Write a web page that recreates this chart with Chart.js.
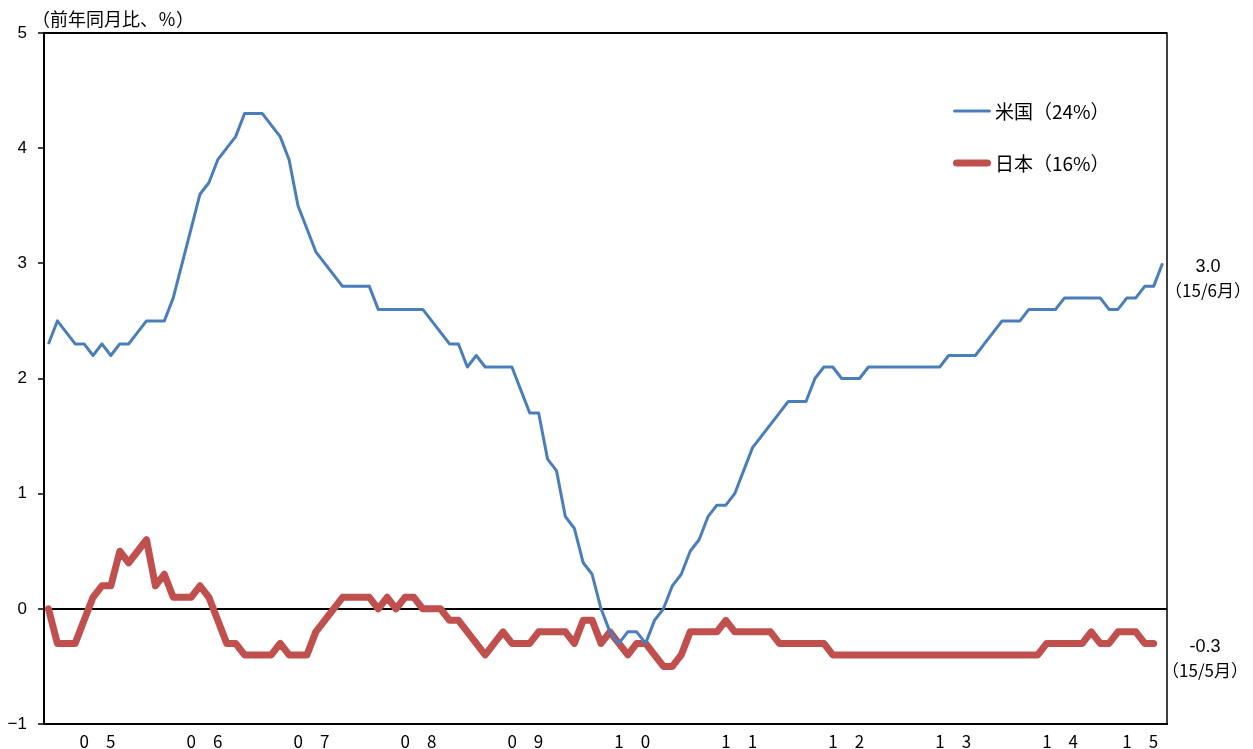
<!DOCTYPE html>
<html>
<head>
<meta charset="utf-8">
<script src="https://cdn.jsdelivr.net/npm/chart.js@4.4.1/dist/chart.umd.min.js"></script>
<style>
  html, body { margin: 0; padding: 0; background: #ffffff; }
  #wrap { width: 1253px; height: 749px; position: relative; }
</style>
</head>
<body>
<div id="wrap"><canvas id="c" width="1253" height="749"></canvas></div>
<script>
// Monthly series, Jan 2005 onward (year-on-year change, %)
const startYear = 2005;
const yearLabels = ['0　5', '0　6', '0　7', '0　8', '0　9', '1　0', '1　1', '1　2', '1　3', '1　4', '1　5'];
const seriesNames = ['米国（24%）', '日本（16%）'];
const latestLabels = ['（15/6月）', '（15/5月）'];

const usValues = [
  2.3, 2.5, 2.4, 2.3, 2.3, 2.2, 2.3, 2.2, 2.3, 2.3, 2.4, 2.5,
  2.5, 2.5, 2.7, 3.0, 3.3, 3.6, 3.7, 3.9, 4.0, 4.1, 4.3, 4.3,
  4.3, 4.2, 4.1, 3.9, 3.5, 3.3, 3.1, 3.0, 2.9, 2.8, 2.8, 2.8,
  2.8, 2.6, 2.6, 2.6, 2.6, 2.6, 2.6, 2.5, 2.4, 2.3, 2.3, 2.1,
  2.2, 2.1, 2.1, 2.1, 2.1, 1.9, 1.7, 1.7, 1.3, 1.2, 0.8, 0.7,
  0.4, 0.3, 0.0, -0.2, -0.3, -0.2, -0.2, -0.3, -0.1, 0.0, 0.2, 0.3,
  0.5, 0.6, 0.8, 0.9, 0.9, 1.0, 1.2, 1.4, 1.5, 1.6, 1.7, 1.8,
  1.8, 1.8, 2.0, 2.1, 2.1, 2.0, 2.0, 2.0, 2.1, 2.1, 2.1, 2.1,
  2.1, 2.1, 2.1, 2.1, 2.1, 2.2, 2.2, 2.2, 2.2, 2.3, 2.4, 2.5,
  2.5, 2.5, 2.6, 2.6, 2.6, 2.6, 2.7, 2.7, 2.7, 2.7, 2.7, 2.6,
  2.6, 2.7, 2.7, 2.8, 2.8, 3.0
];

const jpValues = [
  0.0, -0.3, -0.3, -0.3, -0.1, 0.1, 0.2, 0.2, 0.5, 0.4, 0.5, 0.6,
  0.2, 0.3, 0.1, 0.1, 0.1, 0.2, 0.1, -0.1, -0.3, -0.3, -0.4, -0.4,
  -0.4, -0.4, -0.3, -0.4, -0.4, -0.4, -0.2, -0.1, 0.0, 0.1, 0.1, 0.1,
  0.1, 0.0, 0.1, 0.0, 0.1, 0.1, 0.0, 0.0, 0.0, -0.1, -0.1, -0.2,
  -0.3, -0.4, -0.3, -0.2, -0.3, -0.3, -0.3, -0.2, -0.2, -0.2, -0.2, -0.3,
  -0.1, -0.1, -0.3, -0.2, -0.3, -0.4, -0.3, -0.3, -0.4, -0.5, -0.5, -0.4,
  -0.2, -0.2, -0.2, -0.2, -0.1, -0.2, -0.2, -0.2, -0.2, -0.2, -0.3, -0.3,
  -0.3, -0.3, -0.3, -0.3, -0.4, -0.4, -0.4, -0.4, -0.4, -0.4, -0.4, -0.4,
  -0.4, -0.4, -0.4, -0.4, -0.4, -0.4, -0.4, -0.4, -0.4, -0.4, -0.4, -0.4,
  -0.4, -0.4, -0.4, -0.4, -0.3, -0.3, -0.3, -0.3, -0.3, -0.2, -0.3, -0.3,
  -0.2, -0.2, -0.2, -0.3, -0.3
];

const usColor = '#4A7EBB';
const jpColor = '#C0504D';

// month categories
const months = [];
for (let i = 0; i < usValues.length; i++) {
  months.push((startYear + Math.floor(i / 12)) + '/' + (i % 12 + 1));
}

// index of the month that carries each year label (middle of the year's months)
function yearLabelIndex(k) {
  const n = Math.min(12, months.length - 12 * k);
  return 12 * k + Math.floor((n - 1) / 2);
}

const jpFont = '"Noto Sans CJK JP", "Noto Sans", sans-serif';
const numFont = '"Liberation Sans", Arial, sans-serif';

const overlay = {
  id: 'overlay',
  afterDraw(chart) {
    const { ctx, chartArea, scales } = chart;
    const y = scales.y;
    ctx.save();

    // frame: top and right edges
    ctx.strokeStyle = '#000';
    ctx.lineWidth = 1.5;
    ctx.beginPath();
    ctx.moveTo(chartArea.left, chartArea.top);
    ctx.lineTo(chartArea.right, chartArea.top);
    ctx.lineTo(chartArea.right, chartArea.bottom);
    ctx.stroke();

    // unit caption
    ctx.fillStyle = '#000';
    ctx.textBaseline = 'middle';
    ctx.textAlign = 'left';
    ctx.font = '18px ' + jpFont;
    ctx.fillText('（前年同月比、％）', 32, 19);

    // legend
    const legendX = 953, legendX2 = 991;
    const rows = [
      { name: seriesNames[0], color: usColor, width: 3, y: 111 },
      { name: seriesNames[1], color: jpColor, width: 7, y: 163 }
    ];
    rows.forEach(r => {
      ctx.strokeStyle = r.color;
      ctx.lineWidth = r.width;
      ctx.lineCap = 'round';
      ctx.beginPath();
      ctx.moveTo(legendX + r.width / 2, r.y);
      ctx.lineTo(legendX2 - r.width / 2, r.y);
      ctx.stroke();
      ctx.fillStyle = '#000';
      ctx.font = '19px ' + jpFont;
      ctx.textAlign = 'left';
      ctx.fillText(r.name, 995, r.y + 1);
    });

    // latest values at the right edge
    const lastUS = usValues[usValues.length - 1];
    const lastJP = jpValues[jpValues.length - 1];
    const ends = [
      { v: lastUS, date: latestLabels[0], x: 1208 },
      { v: lastJP, date: latestLabels[1], x: 1205 }
    ];
    ends.forEach(e => {
      const py = y.getPixelForValue(e.v) + 3.5;
      ctx.textAlign = 'center';
      ctx.font = '18px ' + numFont;
      ctx.fillText(e.v.toFixed(1), e.x, py);
      ctx.font = '17px ' + jpFont;
      ctx.fillText(e.date, e.x, py + 24);
    });

    ctx.restore();
  }
};

new Chart(document.getElementById('c'), {
  type: 'line',
  data: {
    labels: months,
    datasets: [
      {
        label: seriesNames[0],
        data: usValues,
        borderColor: usColor,
        borderWidth: 3,
        pointRadius: 0,
        tension: 0,
        borderJoinStyle: 'round'
      },
      {
        label: seriesNames[1],
        data: jpValues,
        borderColor: jpColor,
        borderWidth: 7,
        pointRadius: 0,
        tension: 0,
        borderJoinStyle: 'round',
        borderCapStyle: 'round'
      }
    ]
  },
  options: {
    responsive: false,
    animation: false,
    devicePixelRatio: 1,
    layout: { padding: { top: 33, right: 86, left: 0, bottom: 0 } },
    plugins: {
      legend: { display: false },
      tooltip: { enabled: false }
    },
    scales: {
      x: {
        type: 'category',
        offset: true,
        grid: { display: false, drawTicks: false },
        border: { display: true, color: '#000', width: 2 },
        ticks: {
          autoSkip: false,
          maxRotation: 0,
          minRotation: 0,
          labelOffset: 4.5,
          padding: 7,
          color: '#000',
          font: { family: jpFont, size: 17 },
          callback: function (val, index) {
            for (let k = 0; k < yearLabels.length; k++) {
              if (yearLabelIndex(k) === index) return yearLabels[k];
            }
            return '';
          }
        },
        afterFit(scale) { scale.height = 25; }
      },
      y: {
        min: -1,
        max: 5,
        ticks: {
          stepSize: 1,
          padding: 11,
          color: '#000',
          font: { family: numFont, size: 17 },
          callback: v => (v < 0 ? '−' + Math.abs(v) : String(v))
        },
        grid: {
          drawOnChartArea: true,
          color: ctx => (ctx.tick && (ctx.tick.value === 0 || ctx.tick.value === 5)) ? '#000' : 'rgba(0,0,0,0)',
          lineWidth: 2,
          tickColor: '#000',
          tickLength: 6,
          tickWidth: 1.5
        },
        border: { display: true, color: '#000', width: 2 },
        afterFit(scale) { scale.width = 44; }
      }
    }
  },
  plugins: [overlay]
});
</script>
</body>
</html>
